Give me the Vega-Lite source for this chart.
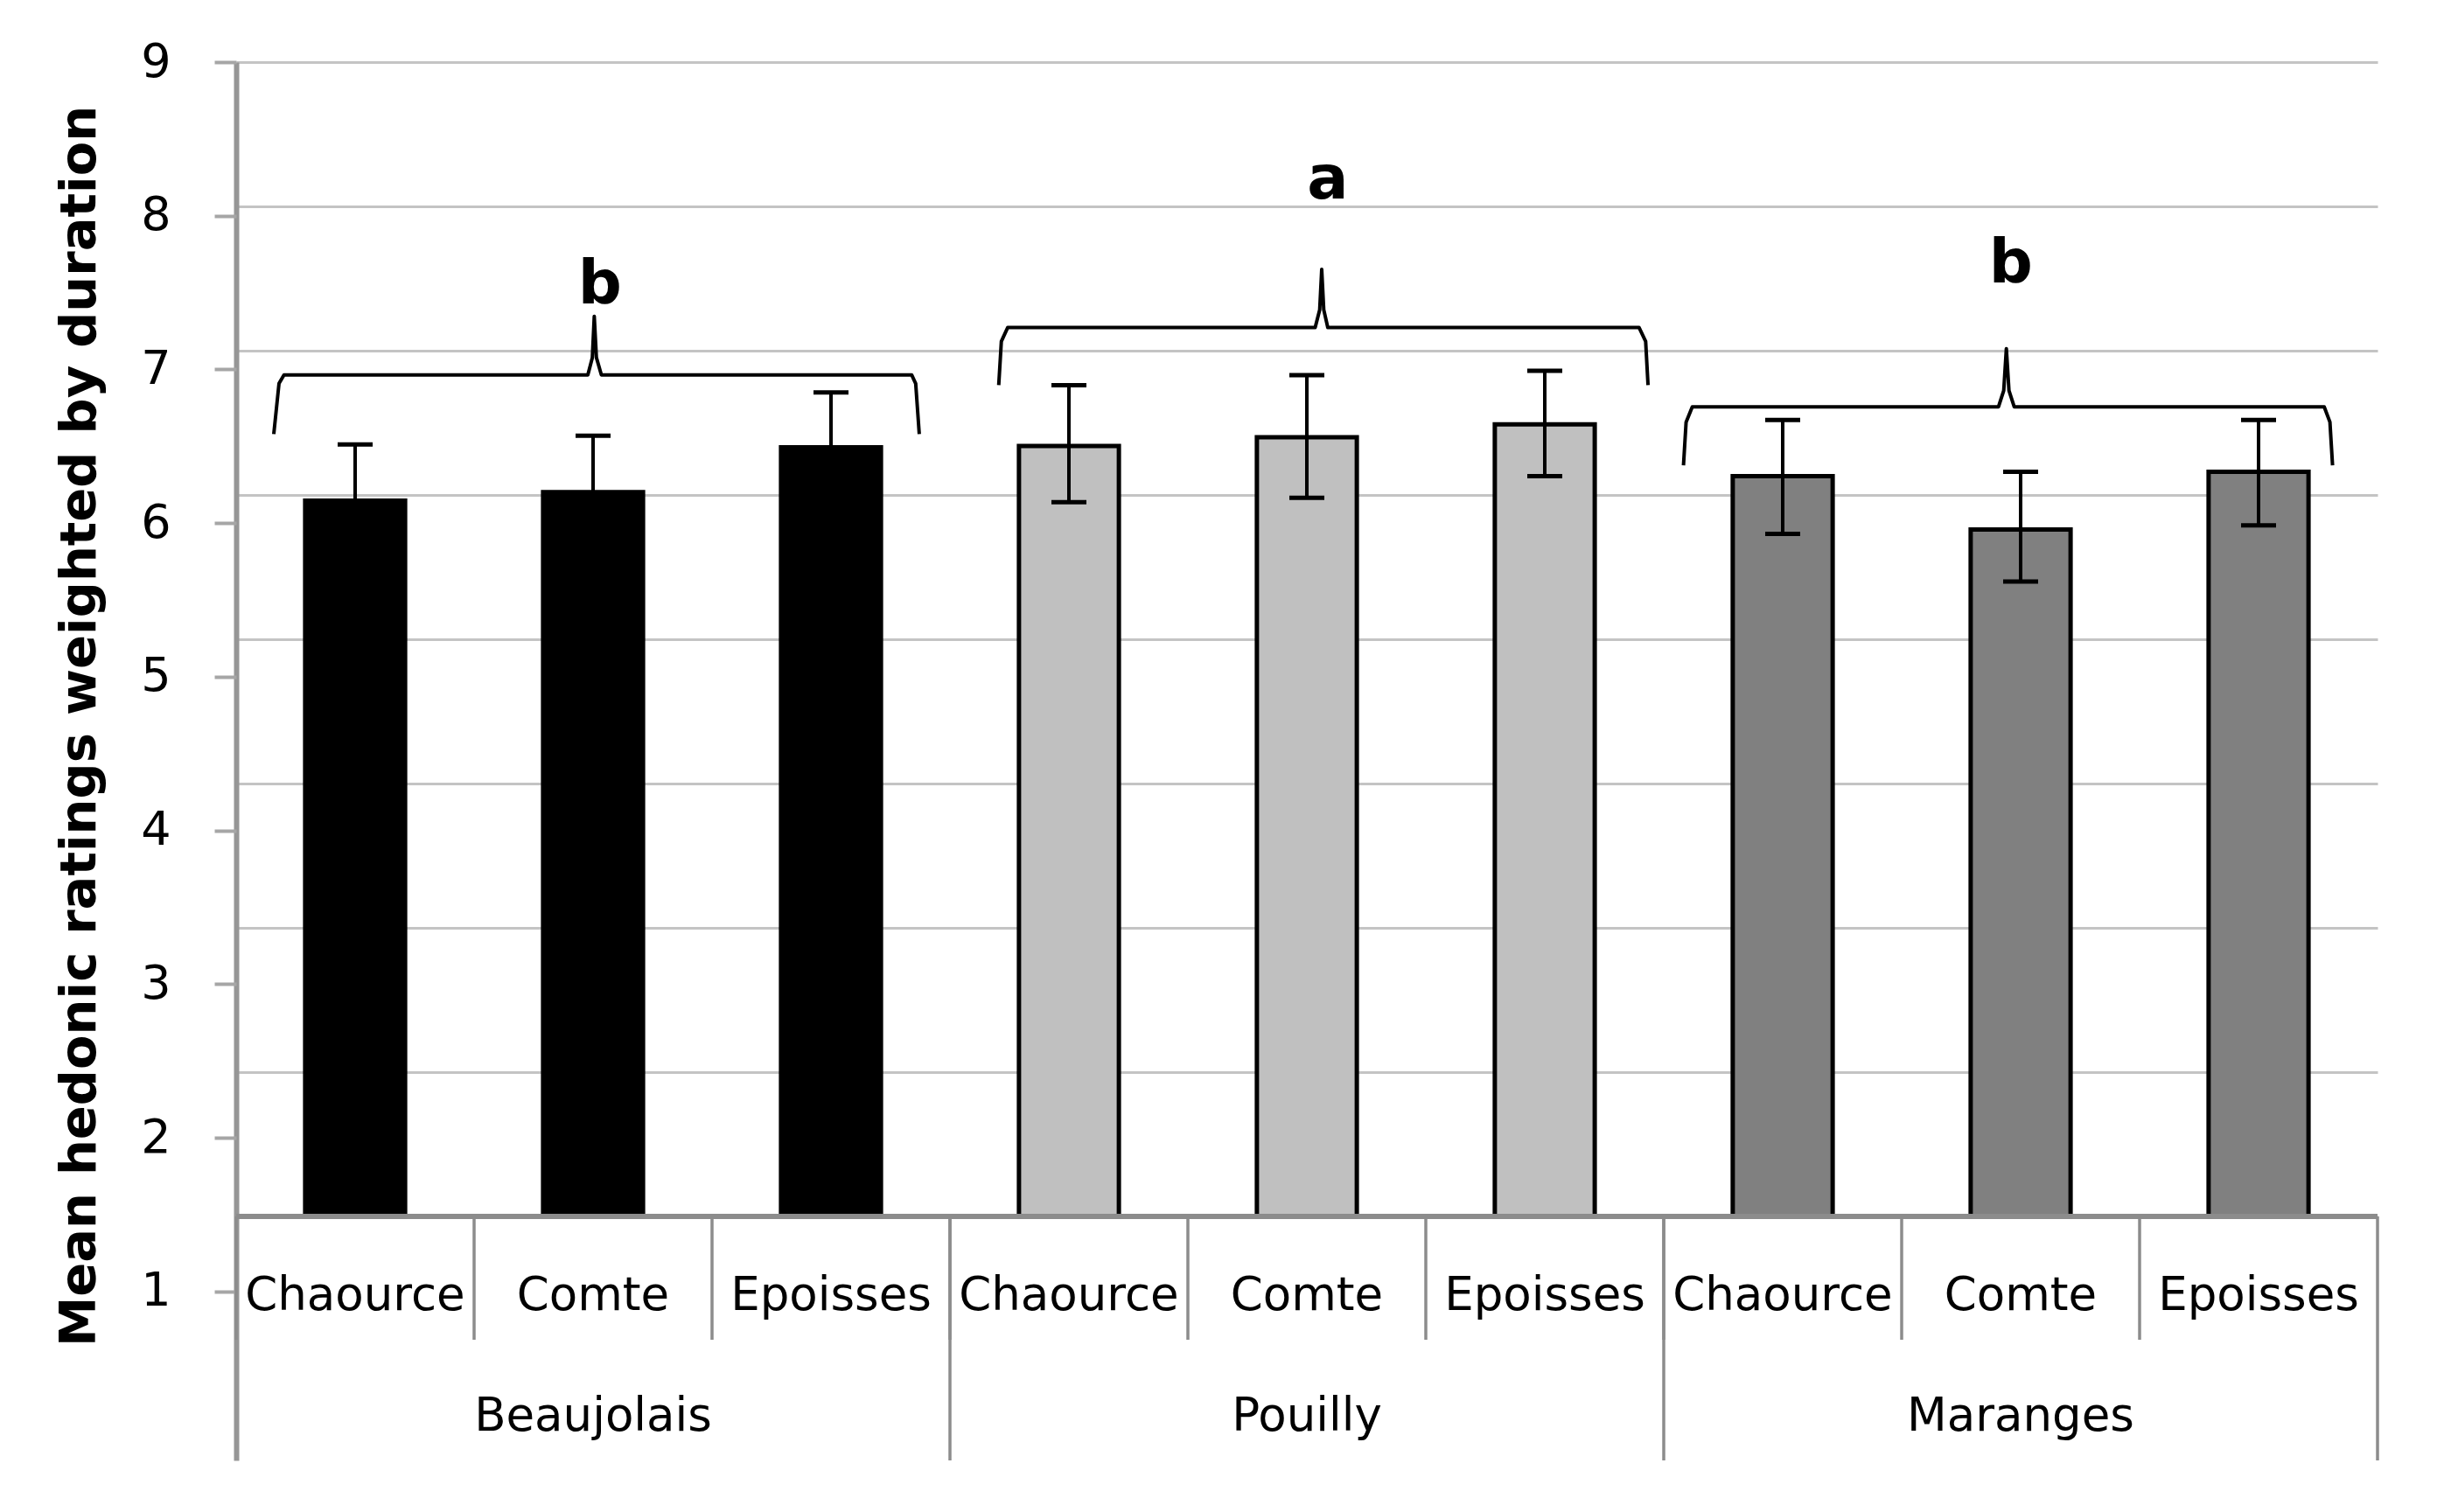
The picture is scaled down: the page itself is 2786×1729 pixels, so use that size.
{
  "$schema": "https://vega.github.io/schema/vega-lite/v6.json",
  "width": 2448,
  "height": 1599,
  "autosize": {"type": "none"},
  "padding": {"left": 270, "top": 71, "right": 68, "bottom": 59},
  "background": "white",
  "config": {"view": {"stroke": null}, "font": "DejaVu Sans"},
  "datasets": {
    "bars": [
      {"wine": "Beaujolais", "cheese": "Chaource", "key": "Beaujolais|Chaource", "mean": 5.96, "lo": 5.57, "hi": 6.35},
      {"wine": "Beaujolais", "cheese": "Comte", "key": "Beaujolais|Comte", "mean": 6.02, "lo": 5.63, "hi": 6.41},
      {"wine": "Beaujolais", "cheese": "Epoisses", "key": "Beaujolais|Epoisses", "mean": 6.33, "lo": 5.95, "hi": 6.71},
      {"wine": "Pouilly", "cheese": "Chaource", "key": "Pouilly|Chaource", "mean": 6.34, "lo": 5.95, "hi": 6.76},
      {"wine": "Pouilly", "cheese": "Comte", "key": "Pouilly|Comte", "mean": 6.40, "lo": 5.98, "hi": 6.83},
      {"wine": "Pouilly", "cheese": "Epoisses", "key": "Pouilly|Epoisses", "mean": 6.49, "lo": 6.13, "hi": 6.86},
      {"wine": "Maranges", "cheese": "Chaource", "key": "Maranges|Chaource", "mean": 6.13, "lo": 5.73, "hi": 6.52},
      {"wine": "Maranges", "cheese": "Comte", "key": "Maranges|Comte", "mean": 5.76, "lo": 5.40, "hi": 6.16},
      {"wine": "Maranges", "cheese": "Epoisses", "key": "Maranges|Epoisses", "mean": 6.16, "lo": 5.79, "hi": 6.52}
    ],
    "braces": [
      {"group": "Beaujolais", "order": 1, "u": 0.158, "v": 6.422},
      {"group": "Beaujolais", "order": 2, "u": 0.180, "v": 6.772},
      {"group": "Beaujolais", "order": 3, "u": 0.201, "v": 6.832},
      {"group": "Beaujolais", "order": 4, "u": 1.478, "v": 6.832},
      {"group": "Beaujolais", "order": 5, "u": 1.497, "v": 6.952},
      {"group": "Beaujolais", "order": 6, "u": 1.505, "v": 7.238},
      {"group": "Beaujolais", "order": 7, "u": 1.514, "v": 6.952},
      {"group": "Beaujolais", "order": 8, "u": 1.535, "v": 6.832},
      {"group": "Beaujolais", "order": 9, "u": 2.839, "v": 6.832},
      {"group": "Beaujolais", "order": 10, "u": 2.856, "v": 6.772},
      {"group": "Beaujolais", "order": 11, "u": 2.871, "v": 6.422},
      {"group": "Pouilly", "order": 1, "u": 3.205, "v": 6.761},
      {"group": "Pouilly", "order": 2, "u": 3.216, "v": 7.064},
      {"group": "Pouilly", "order": 3, "u": 3.243, "v": 7.161},
      {"group": "Pouilly", "order": 4, "u": 4.535, "v": 7.161},
      {"group": "Pouilly", "order": 5, "u": 4.554, "v": 7.284},
      {"group": "Pouilly", "order": 6, "u": 4.5625, "v": 7.563},
      {"group": "Pouilly", "order": 7, "u": 4.571, "v": 7.284},
      {"group": "Pouilly", "order": 8, "u": 4.588, "v": 7.161},
      {"group": "Pouilly", "order": 9, "u": 5.896, "v": 7.161},
      {"group": "Pouilly", "order": 10, "u": 5.924, "v": 7.064},
      {"group": "Pouilly", "order": 11, "u": 5.934, "v": 6.761},
      {"group": "Maranges", "order": 1, "u": 6.083, "v": 6.206},
      {"group": "Maranges", "order": 2, "u": 6.094, "v": 6.505},
      {"group": "Maranges", "order": 3, "u": 6.120, "v": 6.611},
      {"group": "Maranges", "order": 4, "u": 7.407, "v": 6.611},
      {"group": "Maranges", "order": 5, "u": 7.429, "v": 6.724},
      {"group": "Maranges", "order": 6, "u": 7.440, "v": 7.014},
      {"group": "Maranges", "order": 7, "u": 7.451, "v": 6.724},
      {"group": "Maranges", "order": 8, "u": 7.473, "v": 6.611},
      {"group": "Maranges", "order": 9, "u": 8.776, "v": 6.611},
      {"group": "Maranges", "order": 10, "u": 8.800, "v": 6.505},
      {"group": "Maranges", "order": 11, "u": 8.811, "v": 6.206}
    ],
    "letters": [
      {"group": "Beaujolais", "letter": "b", "u": 1.529, "v": 7.327},
      {"group": "Pouilly", "letter": "a", "u": 4.588, "v": 8.052},
      {"group": "Maranges", "letter": "b", "u": 7.459, "v": 7.473}
    ]
  },
  "layer": [
    {
      "data": {"name": "bars"},
      "layer": [
        {
          "mark": {"type": "bar", "stroke": "black", "strokeWidth": 5, "width": {"band": 0.42}},
          "encoding": {
            "x": {"field": "key", "type": "nominal", "scale": {"type": "band", "domain": ["Beaujolais|Chaource", "Beaujolais|Comte", "Beaujolais|Epoisses", "Pouilly|Chaource", "Pouilly|Comte", "Pouilly|Epoisses", "Maranges|Chaource", "Maranges|Comte", "Maranges|Epoisses"], "paddingInner": 0, "paddingOuter": 0}, "axis": null},
            "y": {"field": "mean", "type": "quantitative", "scale": {"domain": [-0.691, 9], "nice": false, "zero": false},
              "axis": {"values": [1, 2, 3, 4, 5, 6, 7, 8, 9], "grid": true, "gridColor": "#c4c4c4", "gridWidth": 3, "labels": false, "ticks": false, "domain": true, "domainColor": "#969696", "domainWidth": 6, "title": null}},
            "y2": {"datum": 1},
            "color": {"field": "wine", "type": "nominal", "scale": {"domain": ["Beaujolais", "Pouilly", "Maranges"], "range": ["#000000", "#c0c0c0", "#808080"]}, "legend": null}
          }
        },
        {
          "mark": {"type": "rule", "color": "black", "strokeWidth": 4},
          "encoding": {
            "x": {"field": "key", "type": "nominal", "scale": {"type": "band", "domain": ["Beaujolais|Chaource", "Beaujolais|Comte", "Beaujolais|Epoisses", "Pouilly|Chaource", "Pouilly|Comte", "Pouilly|Epoisses", "Maranges|Chaource", "Maranges|Comte", "Maranges|Epoisses"], "paddingInner": 0, "paddingOuter": 0}, "axis": null},
            "y": {"field": "lo", "type": "quantitative", "axis": {"title": null}},
            "y2": {"field": "hi"}
          }
        },
        {
          "mark": {"type": "tick", "color": "black", "size": 40, "thickness": 5, "opacity": 1},
          "encoding": {
            "x": {"field": "key", "type": "nominal", "scale": {"type": "band", "domain": ["Beaujolais|Chaource", "Beaujolais|Comte", "Beaujolais|Epoisses", "Pouilly|Chaource", "Pouilly|Comte", "Pouilly|Epoisses", "Maranges|Chaource", "Maranges|Comte", "Maranges|Epoisses"], "paddingInner": 0, "paddingOuter": 0}, "axis": null},
            "y": {"field": "lo", "type": "quantitative", "axis": {"title": null}}
          }
        },
        {
          "mark": {"type": "tick", "color": "black", "size": 40, "thickness": 5, "opacity": 1},
          "encoding": {
            "x": {"field": "key", "type": "nominal", "scale": {"type": "band", "domain": ["Beaujolais|Chaource", "Beaujolais|Comte", "Beaujolais|Epoisses", "Pouilly|Chaource", "Pouilly|Comte", "Pouilly|Epoisses", "Maranges|Chaource", "Maranges|Comte", "Maranges|Epoisses"], "paddingInner": 0, "paddingOuter": 0}, "axis": null},
            "y": {"field": "hi", "type": "quantitative", "axis": {"title": null}}
          }
        },
        {
          "mark": {"type": "rule", "color": "#8c8c8c", "strokeWidth": 5},
          "encoding": {"y": {"datum": 1, "type": "quantitative"}}
        },
        {
          "mark": {"type": "rule", "color": "#8c8c8c", "strokeWidth": 3.5},
          "encoding": {
            "x": {"field": "key", "type": "nominal", "bandPosition": 0, "scale": {"type": "band", "domain": ["Beaujolais|Chaource", "Beaujolais|Comte", "Beaujolais|Epoisses", "Pouilly|Chaource", "Pouilly|Comte", "Pouilly|Epoisses", "Maranges|Chaource", "Maranges|Comte", "Maranges|Epoisses"], "paddingInner": 0, "paddingOuter": 0}, "axis": null},
            "y": {"datum": 1, "type": "quantitative"},
            "y2": {"datum": 0.145}
          }
        },
        {
          "transform": [{"filter": "datum.cheese === 'Epoisses'"}],
          "mark": {"type": "rule", "color": "#8c8c8c", "strokeWidth": 3.5},
          "encoding": {
            "x": {"field": "key", "type": "nominal", "bandPosition": 1, "scale": {"type": "band", "domain": ["Beaujolais|Chaource", "Beaujolais|Comte", "Beaujolais|Epoisses", "Pouilly|Chaource", "Pouilly|Comte", "Pouilly|Epoisses", "Maranges|Chaource", "Maranges|Comte", "Maranges|Epoisses"], "paddingInner": 0, "paddingOuter": 0}, "axis": null},
            "y": {"datum": 1, "type": "quantitative"},
            "y2": {"datum": -0.691}
          }
        },
        {
          "mark": {"type": "text", "font": "DejaVu Sans", "fontSize": 53, "color": "black", "baseline": "middle", "align": "center"},
          "encoding": {
            "x": {"field": "key", "type": "nominal", "scale": {"type": "band", "domain": ["Beaujolais|Chaource", "Beaujolais|Comte", "Beaujolais|Epoisses", "Pouilly|Chaource", "Pouilly|Comte", "Pouilly|Epoisses", "Maranges|Chaource", "Maranges|Comte", "Maranges|Epoisses"], "paddingInner": 0, "paddingOuter": 0}, "axis": null},
            "y": {"datum": 0.45, "type": "quantitative"},
            "text": {"field": "cheese"}
          }
        },
        {
          "transform": [{"filter": "datum.cheese === 'Comte'"}],
          "mark": {"type": "text", "font": "DejaVu Sans", "fontSize": 53, "color": "black", "baseline": "middle", "align": "center"},
          "encoding": {
            "x": {"field": "key", "type": "nominal", "scale": {"type": "band", "domain": ["Beaujolais|Chaource", "Beaujolais|Comte", "Beaujolais|Epoisses", "Pouilly|Chaource", "Pouilly|Comte", "Pouilly|Epoisses", "Maranges|Chaource", "Maranges|Comte", "Maranges|Epoisses"], "paddingInner": 0, "paddingOuter": 0}, "axis": null},
            "y": {"datum": -0.39, "type": "quantitative"},
            "text": {"field": "wine"}
          }
        }
      ]
    },
    {
      "layer": [
        {
          "data": {"name": "braces"},
          "mark": {"type": "line", "color": "black", "strokeWidth": 4, "strokeJoin": "round"},
          "encoding": {
            "x": {"field": "u", "type": "quantitative", "scale": {"domain": [0, 9], "nice": false, "zero": false}, "axis": null},
            "y": {"field": "v", "type": "quantitative", "scale": {"domain": [-0.691, 9], "nice": false, "zero": false}, "axis": null},
            "detail": {"field": "group"},
            "order": {"field": "order", "type": "quantitative"}
          }
        },
        {
          "data": {"name": "letters"},
          "mark": {"type": "text", "font": "DejaVu Sans", "fontSize": 70, "fontWeight": "bold", "color": "black", "baseline": "alphabetic", "align": "center"},
          "encoding": {
            "x": {"field": "u", "type": "quantitative", "scale": {"domain": [0, 9], "nice": false, "zero": false}, "axis": null},
            "y": {"field": "v", "type": "quantitative", "scale": {"domain": [-0.691, 9], "nice": false, "zero": false}, "axis": null},
            "text": {"field": "letter"}
          }
        }
      ]
    },
    {
      "data": {"name": "bars"},
      "mark": {"type": "point", "opacity": 0},
      "encoding": {
        "y": {"field": "mean", "type": "quantitative", "scale": {"domain": [-0.1, 9], "nice": false, "zero": false},
          "axis": {"orient": "left", "values": [1, 2, 3, 4, 5, 6, 7, 8, 9], "format": "d", "grid": false, "domain": false, "ticks": true, "tickSize": 25, "tickColor": "#a6a6a6", "tickWidth": 4, "labels": true, "labelFont": "DejaVu Sans", "labelFontSize": 54, "labelColor": "black", "labelPadding": 50,
            "title": "Mean hedonic ratings weighted by duration", "titleFont": "DejaVu Sans", "titleFontSize": 57.5, "titleFontWeight": "bold", "titleColor": "black", "titleAngle": 270, "titleAlign": "center", "titleBaseline": "alphabetic", "titleX": -162, "titleY": 759}}
      }
    }
  ],
  "resolve": {"scale": {"x": "independent", "y": "independent"}}
}
